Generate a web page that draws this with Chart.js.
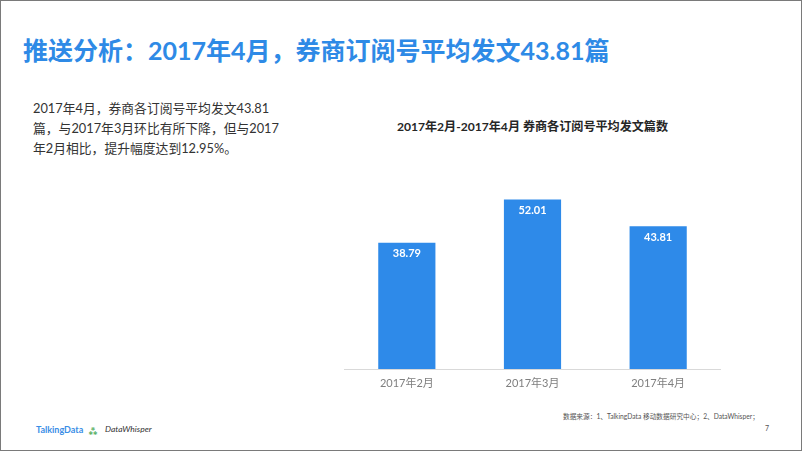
<!DOCTYPE html>
<html>
<head>
<meta charset="utf-8">
<script src="https://cdn.jsdelivr.net/npm/chart.js@4/dist/chart.umd.min.js"></script>
<style>
  html, body { margin: 0; padding: 0; background: #fff; }
  #page { position: relative; width: 802px; height: 451px; box-sizing: border-box; border: 1px solid #7a7a7a; overflow: hidden; font-family: Lato, "Noto Sans CJK SC", sans-serif; }
  .abs { position: absolute; white-space: nowrap; }
  #title { left: 22px; top: 33px; font-size: 25px; font-weight: bold; color: #2e8ae6; line-height: 32px; }
  #desc { left: 32px; top: 97px; font-size: 12.8px; color: #333; line-height: 20px; }
  #ctitle { left: 343px; width: 377px; top: 117px; text-align: center; font-size: 12.1px; font-weight: bold; color: #262626; line-height: 18px; }
  #wrap { left: 343px; top: 160px; width: 377px; height: 240px; }
  #src { left: 562px; top: 409px; font-size: 6.7px; color: #555; line-height: 12px; }
  #pg { left: 764px; top: 423px; font-size: 7px; color: #555; }
  #td { left: 35px; top: 423px; font-size: 9px; color: #3a8ee6; font-weight: bold; }
  #icon { left: 87px; top: 422px; font-size: 10px; color: #3aa34a; font-weight: bold; }
  #dw { left: 104px; top: 423px; font-size: 8.5px; color: #333; font-style: italic; }
</style>
</head>
<body>
<div id="page">
  <div id="title" class="abs">推送分析：2017年4月，券商订阅号平均发文43.81篇</div>
  <div id="desc" class="abs">2017年4月，券商各订阅号平均发文43.81<br>篇，与2017年3月环比有所下降，但与2017<br>年2月相比，提升幅度达到12.95%。</div>
  <div id="ctitle" class="abs">2017年2月-2017年4月 券商各订阅号平均发文篇数</div>
  <div id="wrap" class="abs"><canvas id="c"></canvas></div>
  <div id="src" class="abs">数据来源：1、TalkingData 移动数据研究中心；2、DataWhisper；</div>
  <div id="pg" class="abs">7</div>
  <div id="td" class="abs">TalkingData</div>
  <div id="icon" class="abs">⁂</div>
  <div id="dw" class="abs">DataWhisper</div>
</div>
<script>
const categories = ["2017年2月", "2017年3月", "2017年4月"];
const avgPosts = [38.79, 52.01, 43.81];
const valueLabels = ["38.79", "52.01", "43.81"];

const labelPlugin = {
  id: 'valueLabels',
  afterDatasetsDraw(chart) {
    const ctx = chart.ctx;
    const meta = chart.getDatasetMeta(0);
    ctx.save();
    ctx.fillStyle = '#ffffff';
    ctx.font = 'bold 11px Lato, "Noto Sans CJK SC", sans-serif';
    ctx.textAlign = 'center';
    ctx.textBaseline = 'middle';
    meta.data.forEach((bar, i) => {
      ctx.fillText(valueLabels[i], bar.x, bar.y + 11);
    });
    ctx.restore();
  }
};

new Chart(document.getElementById('c'), {
  type: 'bar',
  data: {
    labels: categories,
    datasets: [{
      data: avgPosts,
      backgroundColor: '#2e8ae9',
      borderWidth: 0,
      barPercentage: 1,
      categoryPercentage: 0.455
    }]
  },
  options: {
    responsive: true,
    maintainAspectRatio: false,
    animation: false,
    layout: { padding: { top: 12.6, left: 0, right: 0, bottom: 0 } },
    plugins: { legend: { display: false }, tooltip: { enabled: false }, title: { display: false } },
    scales: {
      y: { display: false, min: 0, max: 60 },
      x: {
        grid: { display: false, drawTicks: false },
        border: { display: true, color: '#d9d9d9', width: 1 },
        ticks: { color: '#7f7f7f', font: { size: 11, family: 'Lato, "Noto Sans CJK SC", sans-serif' }, padding: 8 },
        afterFit(scale) { scale.height = 32; }
      }
    }
  },
  plugins: [labelPlugin]
});
</script>
</body>
</html>
